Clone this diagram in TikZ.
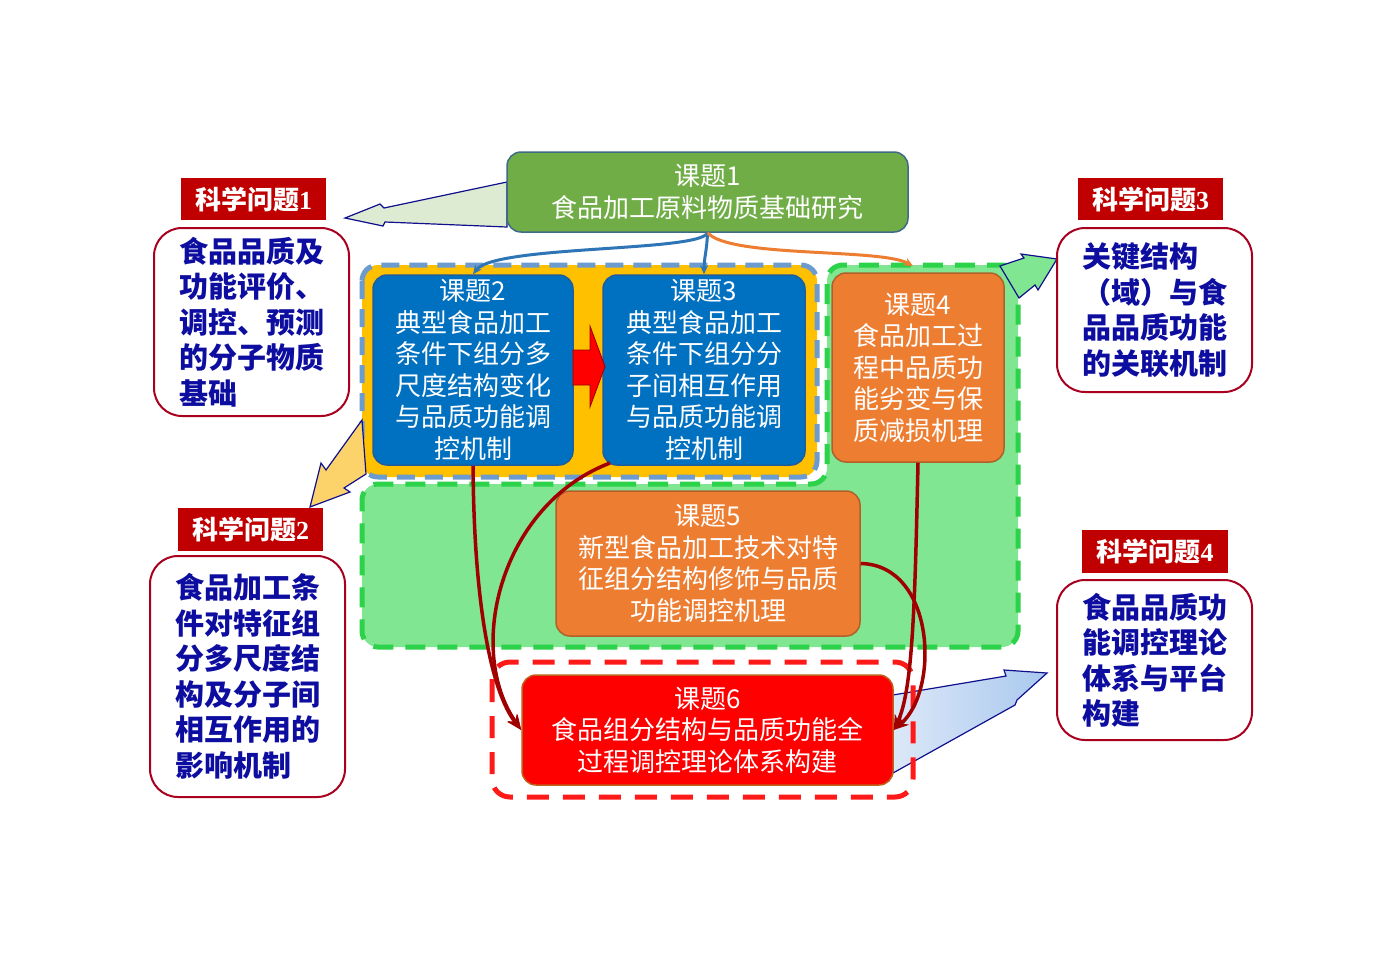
\documentclass[tikz,border=0pt]{standalone}
\usepackage{fontspec}
\newfontfamily\cjk{Noto Sans CJK SC}
\newfontfamily\lserif{Liberation Serif}
\usetikzlibrary{arrows.meta}
\definecolor{t1fill}{HTML}{70AD47}
\definecolor{t1line}{HTML}{3E6B85}
\definecolor{bluefill}{HTML}{0070C0}
\definecolor{blueline}{HTML}{1F5E9E}
\definecolor{orfill}{HTML}{ED7D31}
\definecolor{orline}{HTML}{B0602A}
\definecolor{t6line}{HTML}{C0601A}
\definecolor{yel}{HTML}{FFC000}
\definecolor{bdash}{HTML}{6B9BCF}
\definecolor{gfill}{HTML}{80E691}
\definecolor{gdash}{HTML}{2BD24A}
\definecolor{rdash}{HTML}{FF1A1A}
\definecolor{qred}{HTML}{C00000}
\definecolor{qline}{HTML}{A8001E}
\definecolor{qtext}{HTML}{0D0DA0}
\definecolor{navy}{HTML}{10108C}
\definecolor{darkred}{HTML}{A00000}
\definecolor{conblue}{HTML}{2E75B6}
\definecolor{a1fill}{HTML}{DDEBD3}
\definecolor{a2fill}{HTML}{FCD36A}
\definecolor{a4left}{HTML}{DCE8F8}
\definecolor{a4right}{HTML}{A9C8EE}
\tikzset{
  topic/.style={rounded corners=14pt, draw, line width=1.5pt, text=white, align=center, inner sep=0pt,
    font=\cjk\fontsize{26}{31.5}\selectfont},
  qlabel/.style={fill=qred, text=white, inner sep=0pt, font=\cjk\bfseries\fontsize{26}{30}\selectfont},
  qbox/.style={draw=qline, line width=2pt, fill=white, rounded corners=28pt, align=left, text=qtext,
    inner sep=0pt, font=\cjk\bfseries\fontsize{29}{35.5}\selectfont},
  blockarrow/.style={draw=navy, line width=1.2pt, line join=miter},
  redc/.style={draw=darkred, line width=3.5pt, -{Stealth[length=15pt,width=12pt]}},
  bluec/.style={draw=conblue, line width=3pt, -{Stealth[length=9pt,width=8pt]}},
  orc/.style={draw=orfill, line width=3pt, -{Stealth[length=9pt,width=8pt]}},
}
\begin{document}
\begin{tikzpicture}[x=1pt,y=-1pt]
\useasboundingbox (0,0) rectangle (1383,978);
\fill[white] (0,0) rectangle (1383,978);

% green L-shaped region
\path[fill=gfill, draw=gdash, line width=5pt, dash pattern=on 20pt off 12pt, rounded corners=16pt]
  (600,484) -- (827,484) -- (827,265) -- (1018,265) -- (1018,647) -- (362,647) -- (362,484) -- cycle;
\coordinate (g4top) at (913,266);

% blue dashed group with yellow fill
\path[fill=yel, draw=bdash, line width=5pt, dash pattern=on 18pt off 10pt, rounded corners=16pt]
  (362,265) rectangle (817,477);

% block arrows
\path[blockarrow, fill=a1fill]
  (507,182) -- (384,208) -- (380,204) -- (345,218) -- (383,226) -- (385,222) -- (507,227) -- cycle;
\path[blockarrow, fill=a2fill]
  (362,420) -- (326,470) -- (321,463) -- (310,507) -- (350,492) -- (344,488) -- (366,474) -- cycle;
\path[blockarrow, fill=gfill]
  (1000,266) -- (1024,258) -- (1021,254) -- (1057,259) -- (1038,290) -- (1035,285) -- (1019,298) -- cycle;
\path[blockarrow, left color=a4left, right color=a4right]
  (893,695) -- (1006,676) -- (1004,670) -- (1047,673) -- (1017,700) -- (1015,705) -- (893,773) -- cycle;

% red dashed frame around topic 6
\draw[rdash, line width=5pt, dash pattern=on 22pt off 14pt, rounded corners=18pt]
  (492,662) rectangle (913,797);

% topics
\node[topic, fill=t1fill, draw=t1line, minimum width=401pt, minimum height=80pt] (t1) at (707.5,192)
  {课题1\\食品加工原料物质基础研究};
\node[topic, fill=bluefill, draw=blueline, minimum width=200pt, minimum height=190pt] (t2) at (473,370)
  {课题2\\典型食品加工\\条件下组分多\\尺度结构变化\\与品质功能调\\控机制};
\node[topic, fill=bluefill, draw=blueline, minimum width=202pt, minimum height=190pt] (t3) at (704,370)
  {课题3\\典型食品加工\\条件下组分分\\子间相互作用\\与品质功能调\\控机制};
\node[topic, fill=orfill, draw=orline, minimum width=172pt, minimum height=189pt] (t4) at (918,367.5)
  {课题4\\食品加工过\\程中品质功\\能劣变与保\\质减损机理};
\node[topic, fill=orfill, draw=orline, minimum width=304pt, minimum height=145pt] (t5) at (708,563.5)
  {课题5\\新型食品加工技术对特\\征组分结构修饰与品质\\功能调控机理};
\node[topic, fill=red, draw=t6line, minimum width=371pt, minimum height=110pt] (t6) at (707.5,730)
  {课题6\\食品组分结构与品质功能全\\过程调控理论体系构建};

% red block arrow between topic 2 and topic 3
\path[fill=red, draw=red!60!black, line width=0.8pt]
  (573,350) -- (590,350) -- (590,326) -- (605,366.5) -- (590,407) -- (590,385) -- (573,385) -- cycle;

% scientific questions
\node[qlabel, minimum width=145pt, minimum height=42pt] (q1l) at (253.5,199) {科学问题{\lserif\bfseries 1}};
\node[qbox, minimum width=195pt, minimum height=188pt] (q1) at (251.5,322)
  {食品品质及\\功能评价、\\调控、预测\\的分子物质\\基础};
\node[qlabel, minimum width=145pt, minimum height=43pt] (q2l) at (250.5,529.5) {科学问题{\lserif\bfseries 2}};
\node[qbox, minimum width=195pt, minimum height=241pt] (q2) at (247.5,676.5)
  {食品加工条\\件对特征组\\分多尺度结\\构及分子间\\相互作用的\\影响机制};
\node[qlabel, minimum width=145pt, minimum height=42pt] (q3l) at (1150.5,199) {科学问题{\lserif\bfseries 3}};
\node[qbox, minimum width=195pt, minimum height=164pt] (q3) at (1154.5,310)
  {关键结构\\（域）与食\\品品质功能\\的关联机制};
\node[qlabel, minimum width=146pt, minimum height=43pt] (q4l) at (1155,551.5) {科学问题{\lserif\bfseries 4}};
\node[qbox, minimum width=195pt, minimum height=160pt] (q4) at (1154.5,660)
  {食品品质功\\能调控理论\\体系与平台\\构建};

% connectors from topic 1
\draw[bluec] (t1.south) .. controls (700,252) and (495,245) .. (t2.north);
\draw[bluec] (t1.south) .. controls (707,250) and (704,258) .. (t3.north);
\draw[orc] (t1.south) .. controls (730,258) and (880,248) .. (g4top);

% connectors into topic 6
\coordinate (t3b) at (610,463);
\draw[redc] (t2.south) .. controls (474,600) and (490,690) .. (t6.west);
\draw[redc] (t3b) .. controls (500,505) and (465,650) .. (t6.west);
\draw[redc] (t5.east) .. controls (935,565) and (940,690) .. (t6.east);
\draw[redc] (t4.south) .. controls (915,600) and (913,690) .. (t6.east);
\end{tikzpicture}
\end{document}
